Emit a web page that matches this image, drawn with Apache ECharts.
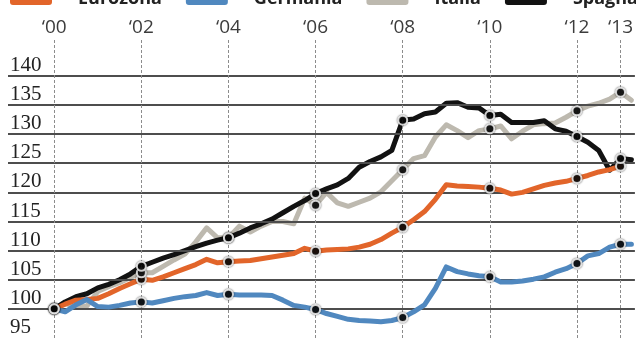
<!DOCTYPE html>
<html>
<head>
<meta charset="utf-8">
<script src="https://cdn.jsdelivr.net/npm/echarts@6/dist/echarts.min.js"></script>
<style>
  html, body { margin: 0; padding: 0; background: #ffffff; }
  #chart { width: 636px; height: 338px; }
</style>
</head>
<body>
<div id="chart"></div>
<script>
// Quarterly index, 2000 Q1 = 100, from 2000 Q1 to 2013 Q2
const startYear = 2000;
const seriesNames = ['Eurozona', 'Germania', 'Italia', 'Spagna'];

const eurozona = [
  100.0, 100.8, 101.5, 101.6, 101.8, 102.6, 103.5, 104.3,
  105.1, 104.9, 105.5, 106.2, 106.9, 107.6, 108.5, 107.9,
  108.1, 108.2, 108.3, 108.6, 108.9, 109.2, 109.5, 110.4,
  109.9, 110.1, 110.2, 110.3, 110.6, 111.1, 111.9, 113.0,
  114.0, 115.3, 116.7, 118.8, 121.3, 121.1, 121.0, 120.9,
  120.7, 120.4, 119.7, 120.0, 120.6, 121.2, 121.6, 121.9,
  122.4, 122.9, 123.5, 123.9, 124.5, null
];
const germania = [
  100.0, 99.5, 100.7, 101.6, 100.4, 100.3, 100.6, 101.0,
  101.2, 101.0, 101.4, 101.8, 102.1, 102.3, 102.8, 102.3,
  102.5, 102.4, 102.4, 102.4, 102.3, 101.5, 100.6, 100.3,
  99.9, 99.2, 98.7, 98.2, 98.0, 97.9, 97.8, 98.0,
  98.5, 99.5, 100.7, 103.5, 107.2, 106.4, 106.0, 105.7,
  105.5, 104.6, 104.6, 104.8, 105.1, 105.5, 106.3, 106.9,
  107.8, 109.1, 109.5, 110.6, 111.1, 111.1
];
const italia = [
  100.0, 100.9, 100.4, 100.5, 103.0, 103.8, 104.5, 105.4,
  106.2, 106.2, 107.3, 108.4, 109.4, 111.5, 113.9, 112.2,
  112.2, 114.2, 113.2, 114.2, 115.0, 115.0, 114.6, 119.0,
  117.8, 120.0, 118.2, 117.6, 118.3, 119.0, 120.1, 122.0,
  123.9, 125.8, 126.3, 129.5, 131.6, 130.6, 129.4, 130.6,
  130.9, 131.4, 129.2, 130.5, 131.6, 131.8, 131.9, 132.9,
  134.0, 134.8, 135.3, 136.0, 137.2, 135.8
];
const spagna = [
  100.0, 101.2, 102.1, 102.6, 103.6, 104.2, 105.0, 106.0,
  107.3, 108.0, 108.7, 109.3, 110.0, 110.7, 111.3, 111.8,
  112.2, 113.0, 113.9, 114.6, 115.4, 116.5, 117.6, 118.6,
  119.8, 120.6, 121.3, 122.4, 124.3, 125.3, 126.1, 127.2,
  132.4, 132.6, 133.5, 133.8, 135.3, 135.4, 134.6, 134.5,
  133.2, 133.4, 132.0, 132.0, 132.0, 132.3, 130.9, 130.5,
  129.6, 128.6, 127.2, 123.8, 125.8, 125.6
];

// Top axis labels and the years that carry a marker
const yearTicks = [2000, 2002, 2004, 2006, 2008, 2010, 2012, 2013];
const yearLabels = ['\u201800', '\u201802', '\u201804', '\u201806', '\u201808', '\u201810', '\u201812', '\u201813'];
// Left scale
const valueTicks = [95, 100, 105, 110, 115, 120, 125, 130, 135, 140];

const colors = {
  Eurozona: '#e2652a',
  Germania: '#5088bf',
  Italia: '#bdb9af',
  Spagna: '#121212'
};

const allValues = { Eurozona: eurozona, Germania: germania, Italia: italia, Spagna: spagna };

function toPoints(values) {
  return values.map((v, i) => [startYear + i / 4, v]);
}

const drawOrder = { Italia: 3, Spagna: 4, Eurozona: 5, Germania: 6 };

const lineSeries = seriesNames.map(name => ({
  name: name,
  type: 'line',
  data: toPoints(allValues[name]),
  showSymbol: false,
  connectNulls: false,
  z: drawOrder[name],
  lineStyle: { color: colors[name], width: 5, cap: 'round', join: 'round' },
  itemStyle: { color: colors[name] },
  emphasis: { disabled: true }
}));

// Year markers on every line
const markerPoints = [];
seriesNames.forEach(name => {
  yearTicks.forEach(y => {
    const idx = (y - startYear) * 4;
    const v = allValues[name][idx];
    if (v != null) markerPoints.push([y, v]);
  });
});

const chart = echarts.init(document.getElementById('chart'), null, { renderer: 'canvas' });

chart.setOption({
  animation: false,
  backgroundColor: '#ffffff',
  legend: {
    data: seriesNames,
    icon: 'roundRect',
    left: 10,
    top: -10,
    width: 1000,
    padding: 0,
    itemWidth: 42,
    itemHeight: 12,
    itemGap: 24,
    selectedMode: false,
    textStyle: {
      fontFamily: 'Open Sans',
      fontWeight: 'bold',
      fontSize: 18,
      color: '#222222',
      padding: [0, 0, 0, 21]
    }
  },
  grid: { left: 8, right: 0, top: 38, bottom: -3, containLabel: false },
  xAxis: {
    type: 'value',
    position: 'top',
    min: 1998.939,
    max: 2013.33,
    axisLine: { show: false },
    axisTick: { show: false },
    splitLine: { show: false },
    axisLabel: {
      customValues: yearTicks,
      margin: 1,
      fontFamily: 'Open Sans',
      fontSize: 19,
      color: '#3c3c3c',
      formatter: v => {
        const k = yearTicks.indexOf(Math.round(v));
        return k >= 0 ? yearLabels[k] : '';
      }
    }
  },
  yAxis: {
    type: 'value',
    min: 95,
    max: 146.5,
    interval: 5,
    axisLine: { show: false },
    axisTick: { show: false },
    splitLine: { show: false },
    axisLabel: {
      inside: true,
      margin: 2,
      verticalAlign: 'bottom',
      fontFamily: 'Liberation Serif',
      fontSize: 21,
      color: '#222222',
      formatter: v => (valueTicks.indexOf(v) >= 0 ? String(v) : '')
    }
  },
  series: [
    {
      name: 'griglia',
      type: 'line',
      data: [],
      z: 1,
      silent: true,
      markLine: {
        silent: true,
        symbol: 'none',
        animation: false,
        label: { show: false },
        data: [
          ...valueTicks.filter(v => v > 95).map(v => ({
            yAxis: v,
            lineStyle: { color: '#4d4d4d', width: 2, type: 'solid' }
          })),
          ...yearTicks.map(y => ({
            xAxis: y,
            lineStyle: { color: '#8c8c8c', width: 1, type: [3, 2] }
          }))
        ]
      }
    },
    ...lineSeries,
    {
      name: 'marcatori',
      type: 'scatter',
      data: markerPoints,
      z: 10,
      silent: true,
      symbol: 'circle',
      symbolSize: 9,
      itemStyle: {
        color: '#0a0a0a',
        borderColor: '#ffffff',
        borderWidth: 2,
        shadowBlur: 2,
        shadowColor: 'rgba(0,0,0,0.7)'
      }
    }
  ]
});
</script>
</body>
</html>
